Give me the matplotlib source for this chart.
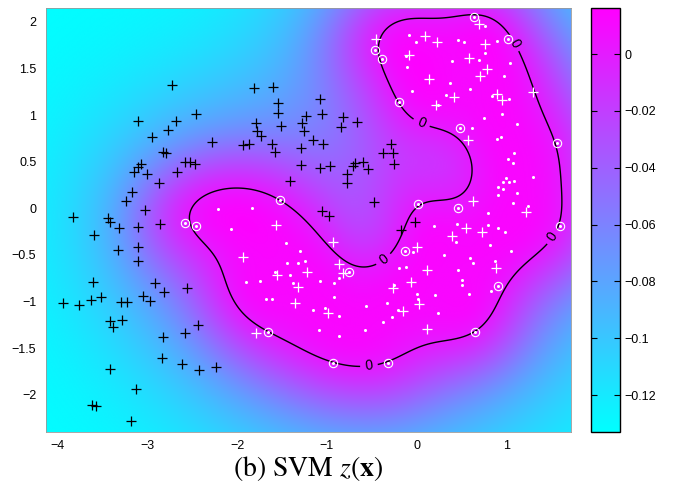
import numpy as np
import matplotlib.pyplot as plt

plt.rcParams['mathtext.fontset'] = 'stix'
plt.rcParams['font.family'] = ['Liberation Sans', 'DejaVu Sans']

# class -1 points (black +)
neg_pts = [(-2.73, 1.32), (-1.81, 1.29), (-1.60, 1.30), (-1.08, 1.17), (-1.55, 1.13), (-1.54, 1.02),
           (-1.23, 0.99), (-1.06, 1.01), (-2.46, 1.01), (-3.11, 0.94), (-2.68, 0.94), (-2.77, 0.84),
           (-2.95, 0.77), (-1.79, 0.92), (-1.78, 0.83), (-1.73, 0.78), (-1.51, 0.88), (-1.28, 0.92),
           (-1.25, 0.83), (-2.28, 0.71), (-1.93, 0.68), (-1.87, 0.69), (-1.61, 0.69), (-1.58, 0.61),
           (-1.16, 0.73), (-1.04, 0.69), (-1.29, 0.65), (-2.83, 0.61), (-2.79, 0.59), (-2.58, 0.50),
           (-2.53, 0.50), (-2.47, 0.48), (-3.07, 0.48), (-3.10, 0.44), (-3.15, 0.39), (-3.00, 0.37),
           (-2.67, 0.39), (-1.29, 0.47), (-1.08, 0.43), (-0.97, 0.45), (-2.87, 0.27), (-1.41, 0.29),
           (-3.17, 0.18), (-3.24, 0.08), (-3.03, -0.02), (-3.83, -0.09), (-3.44, -0.10), (-3.42, -0.15),
           (-1.06, -0.03), (-0.98, -0.08), (-0.82, 0.98), (-0.84, 0.87), (-0.66, 0.93), (-0.29, 0.69),
           (-0.38, 0.59), (-0.26, 0.59), (-0.25, 0.48), (-0.60, 0.50), (-0.69, 0.49), (-0.71, 0.45),
           (-0.54, 0.42), (-0.78, 0.37), (-0.78, 0.27), (-0.47, 0.07), (-3.32, -0.21), (-3.11, -0.20),
           (-2.86, -0.17), (-3.59, -0.29), (-3.33, -0.45), (-3.11, -0.41), (-3.10, -0.57), (-3.61, -0.79),
           (-2.92, -0.80), (-2.81, -0.90), (-2.56, -0.86), (-3.94, -1.02), (-3.76, -1.04), (-3.63, -0.98),
           (-3.52, -0.95), (-3.29, -1.00), (-3.23, -1.00), (-3.05, -0.94), (-2.97, -0.99), (-3.42, -1.21),
           (-3.38, -1.27), (-3.28, -1.20), (-2.44, -1.25), (-2.58, -1.34), (-2.83, -1.38), (-2.84, -1.61),
           (-2.62, -1.67), (-2.42, -1.74), (-2.24, -1.70), (-3.42, -1.72), (-3.13, -1.94), (-3.62, -2.11),
           (-3.57, -2.12), (-3.18, -2.28), (-0.02, -0.15), (-0.17, -0.23)]

# class +1 test points (white +)
pos_pts = [(-0.45, 1.82), (0.70, 1.98), (0.09, 1.85), (0.23, 1.79), (0.76, 1.76), (-0.08, 1.65),
           (0.58, 1.61), (0.78, 1.50), (0.71, 1.42), (0.14, 1.39), (1.30, 1.25), (0.89, 1.23),
           (0.95, 1.16), (0.42, 1.19), (0.22, 1.11), (0.57, 0.73), (0.63, 0.08), (1.22, -0.04),
           (0.55, -0.21), (0.73, -0.25), (0.39, -0.30), (0.00, -0.41), (0.12, -0.66), (0.88, -0.64),
           (-1.57, -0.18), (-1.93, -0.52), (-0.93, -0.36), (-0.87, -0.60), (-0.82, -0.69), (-1.56, -0.72),
           (-1.22, -0.68), (-1.32, -0.84), (-1.35, -1.02), (-0.99, -1.12), (-1.79, -1.34), (-0.06, -0.79),
           (-0.26, -0.85), (0.03, -1.03), (-0.15, -1.10), (0.11, -1.29)]

# class +1 training points (white dots)
dot_pts = [(-0.08, 1.86), (0.76, 1.96), (-0.01, 1.78), (0.46, 1.81), (0.53, 1.79), (0.89, 1.80),
           (0.76, 1.67), (-0.12, 1.63), (-0.11, 1.52), (0.39, 1.58), (0.70, 1.59), (1.04, 1.56),
           (0.97, 1.42), (0.37, 1.34), (-0.05, 1.26), (0.60, 1.28), (0.33, 1.22), (0.84, 1.21),
           (1.03, 1.17), (0.24, 1.11), (0.95, 1.01), (0.75, 0.97), (1.12, 0.90), (0.62, 0.86),
           (0.90, 0.74), (0.94, 0.77), (1.08, 0.59), (1.02, 0.53), (1.07, 0.49), (1.00, 0.33),
           (0.96, 0.28), (1.03, 0.28), (1.09, 0.29), (1.30, 0.34), (0.91, 0.23), (0.96, 0.21),
           (1.12, 0.17), (0.91, 0.14), (1.07, 0.06), (1.24, 0.02), (0.79, -0.05), (0.19, -0.19),
           (0.45, -0.17), (0.79, -0.18), (0.91, -0.21), (0.98, -0.25), (0.44, -0.36), (0.82, -0.39),
           (-0.04, -0.47), (1.05, -0.46), (0.30, -0.50), (0.60, -0.53), (0.63, -0.59), (0.87, -0.57),
           (-0.20, -0.64), (-0.12, -0.63), (0.46, -0.66), (-2.21, -0.01), (-1.83, 0.00), (-2.07, -0.22),
           (-1.46, -0.37), (-1.30, -0.46), (-1.45, -0.59), (-1.32, -0.59), (-1.24, -0.56), (-1.58, -0.68),
           (-1.41, -0.72), (-1.90, -0.79), (-1.74, -0.78), (-1.38, -0.80), (-1.08, -0.78), (-0.92, -0.80),
           (-0.86, -0.75), (-1.68, -0.97), (-1.61, -0.97), (-0.92, -0.95), (-1.16, -1.09), (-1.02, -1.07),
           (-0.86, -1.15), (-0.56, -1.05), (-0.33, -1.02), (-0.37, -1.22), (-1.09, -1.31), (-0.86, -1.37),
           (-0.58, -1.31), (0.51, -0.77), (0.51, -0.82), (0.58, -0.92), (0.83, -0.89), (-0.25, -0.82),
           (0.00, -0.92), (0.01, -0.97), (0.21, -0.93), (-0.21, -1.09), (-0.28, -1.17), (0.24, -1.12)]

# support vectors (circled)
sv_pts = [(0.64, 2.05), (1.02, 1.82), (-0.46, 1.70), (-0.39, 1.60), (-0.20, 1.14), (0.48, 0.86),
          (1.56, 0.70), (0.01, 0.05), (0.46, 0.00), (1.60, -0.19), (-0.13, -0.46), (-1.52, 0.09),
          (-2.58, -0.16), (-2.46, -0.19), (-0.75, -0.68), (-1.66, -1.33), (0.91, -0.83), (0.65, -1.33),
          (-0.32, -1.66), (-0.93, -1.66)]

# where the "0" labels sit on the contour
label_pos = [(0.06, 0.93), (1.07, 1.76), (-0.32, -0.61), (1.52, -0.31), (-0.53, -1.70)]

cb_ticks = [0, -0.02, -0.04, -0.06, -0.08, -0.1, -0.12]
cb_labels = ['0', '\u22120.02', '\u22120.04', '\u22120.06', '\u22120.08', '\u22120.1', '\u22120.12']
x_ticks = [-4, -3, -2, -1, 0, 1]
y_ticks = [2, 1.5, 1, 0.5, 0, -0.5, -1, -1.5, -2]

vmin, vmax = -0.133, 0.0162
xlim = (-4.13, 1.72)
ylim = (-2.40, 2.15)

sv = np.array(sv_pts)
neg = np.array(neg_pts)
pos = np.array(pos_pts)
dots = np.array(dot_pts)

# kernel model: z(x) = sum a_i k(x, c_i) - rho, fitted so that z = 0 on the
# support vectors and z ~ z_in on the other +1 training points.
# k is a mix of a narrow and a wide gaussian (shape of the boundary + slow fade)
rho = 0.133
z_in = 0.012
s_narrow, s_wide, w_narrow = 0.45, 1.0, 0.6
lam = 0.02


def kern(a, b):
    d2 = ((a[:, None, :] - b[None, :, :]) ** 2).sum(-1)
    return (w_narrow * np.exp(-d2 / (2 * s_narrow ** 2))
            + (1 - w_narrow) * np.exp(-d2 / (2 * s_wide ** 2)))


centres = np.vstack([sv, dots])
target = np.r_[np.zeros(len(sv)), np.full(len(dots), z_in)] + rho
alpha = np.linalg.solve(kern(centres, centres) + lam * np.eye(len(centres)), target)

gx = np.linspace(xlim[0], xlim[1], 400)
gy = np.linspace(ylim[0], ylim[1], 400)
GX, GY = np.meshgrid(gx, gy)
grid = np.column_stack([GX.ravel(), GY.ravel()])
Z = (kern(grid, centres) @ alpha - rho).reshape(GX.shape)

fig = plt.figure(figsize=(6.74, 4.90), dpi=100)
ax = fig.add_axes([46 / 674, 58 / 490, 525 / 674, 424 / 490])
im = ax.imshow(Z, extent=(xlim[0], xlim[1], ylim[0], ylim[1]), origin='lower',
               cmap='cool', vmin=vmin, vmax=vmax, aspect='auto', interpolation='bilinear')
cs = ax.contour(GX, GY, Z, levels=[0], colors='k', linewidths=1.0)
ax.clabel(cs, fmt={0: '0'}, fontsize=10, inline=True, manual=label_pos)

ax.plot(dots[:, 0], dots[:, 1], 'o', ms=2.2, mfc='white', mec='white', mew=0)
ax.plot(sv[:, 0], sv[:, 1], 'o', ms=2.2, mfc='white', mec='white', mew=0)
ax.plot(pos[:, 0], pos[:, 1], '+', ms=7.5, color='white', mew=0.9)
ax.plot(neg[:, 0], neg[:, 1], '+', ms=7.5, color='black', mew=0.9)
ax.plot(sv[:, 0], sv[:, 1], 'o', ms=6, mfc='none', mec='white', mew=0.8)

ax.set_xlim(xlim)
ax.set_ylim(ylim)
ax.set_xticks(x_ticks)
ax.set_yticks(y_ticks)
ax.set_yticklabels(['2', '1.5', '1', '0.5', '0', '\u22120.5', '\u22121', '\u22121.5', '\u22122'])
ax.tick_params(length=0, labelsize=9)
ax.tick_params(axis='y', pad=7)
ax.tick_params(axis='x', pad=6)
for s in ax.spines.values():
    s.set_linewidth(0.6)
    s.set_color('#999999')

cax = fig.add_axes([591 / 674, 58 / 490, 29 / 674, 424 / 490])
cb = fig.colorbar(im, cax=cax, ticks=cb_ticks)
cb.set_ticklabels(cb_labels)
cb.outline.set_linewidth(1.0)
cb.ax.tick_params(direction='in', length=4, left=True, right=True, labelsize=9, pad=3, width=0.8)

fig.text(308 / 674, 1 - 468 / 490, r'(b) SVM $z(\mathbf{x})$', ha='center', va='center',
         fontsize=20, family='STIXGeneral')

fig.savefig('out.png', dpi=100)
